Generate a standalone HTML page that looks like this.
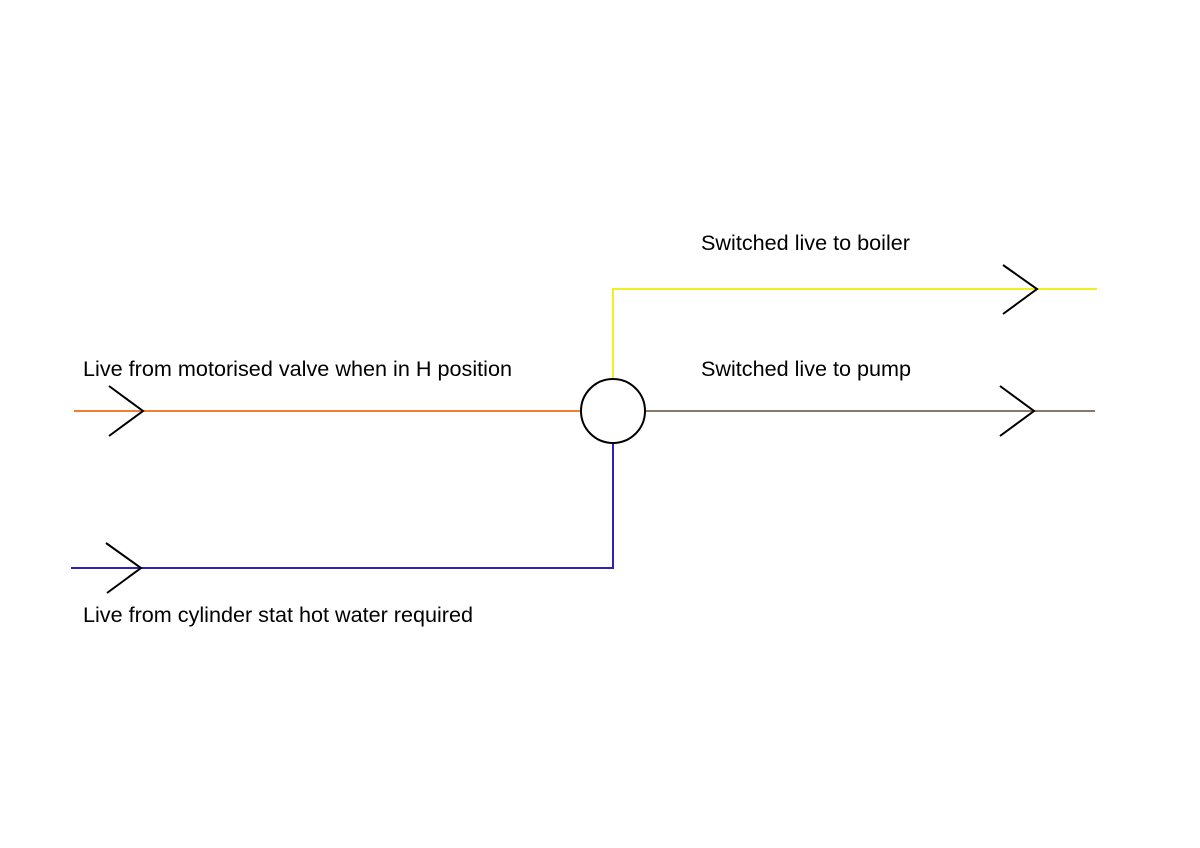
<!DOCTYPE html>
<html><head><style>
html,body{margin:0;padding:0;background:#fff;}
svg{display:block;}
text{font-family:"Liberation Sans",Arial,sans-serif;font-size:21.5px;fill:#000;}
</style></head><body>
<svg width="1200" height="848" viewBox="0 0 1200 848" xmlns="http://www.w3.org/2000/svg">
<rect width="1200" height="848" fill="#fff"/>
<polyline points="613,379 613,289 1097,289" fill="none" stroke="#f0f020" stroke-width="2"/>
<line x1="74" y1="411" x2="581" y2="411" stroke="#f08030" stroke-width="2"/>
<line x1="645" y1="411" x2="1095" y2="411" stroke="#8a7868" stroke-width="2"/>
<polyline points="71,568 613,568 613,443" fill="none" stroke="#3020c0" stroke-width="2"/>
<circle cx="613" cy="411" r="32" fill="#fff" stroke="#000" stroke-width="2"/>
<g fill="none" stroke="#000" stroke-width="2">
<polyline points="109,386 143,411 109,436"/>
<polyline points="106,543 141,568 107,593"/>
<polyline points="1003,265 1037,289 1003,314"/>
<polyline points="1000,386 1034,411 1000,436"/>
</g>
<text x="83" y="376" textLength="429" lengthAdjust="spacingAndGlyphs">Live from motorised valve when in H position</text>
<text x="701" y="250" textLength="209" lengthAdjust="spacingAndGlyphs">Switched live to boiler</text>
<text x="701" y="376" textLength="210" lengthAdjust="spacingAndGlyphs">Switched live to pump</text>
<text x="83" y="622" textLength="390" lengthAdjust="spacingAndGlyphs">Live from cylinder stat hot water required</text>
</svg>
</body></html>
